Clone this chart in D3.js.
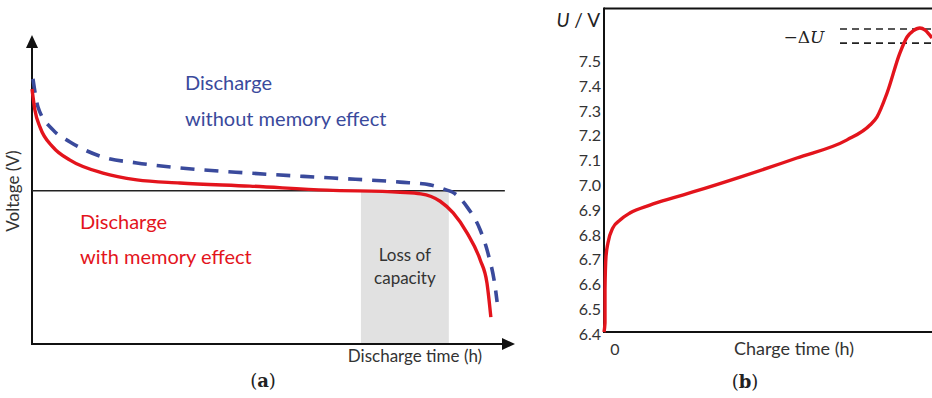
<!DOCTYPE html>
<html><head><meta charset="utf-8">
<script src="https://cdn.jsdelivr.net/npm/d3@7"></script>
<style>body{margin:0;background:#fff}svg{display:block}</style>
</head><body>
<script>
// Panel (a): discharge curves (arbitrary units: time 0-100, voltage 0-10)
const withMemT = [0, 0.6, 1.66, 4.35, 7.87, 14.7, 21.7, 30.6, 45.1, 61.1, 76.2, 80.5, 84.5, 87.2, 90.1, 92.8, 94.2, 95.0];
const withMemV = [8.25, 7.57, 7.02, 6.37, 5.95, 5.53, 5.31, 5.21, 5.11, 4.98, 4.91, 4.86, 4.62, 4.24, 3.59, 2.72, 1.97, 0.87];
const withoutMemT = [0.2, 1.24, 4.35, 7.87, 14.7, 21.7, 30.6, 45.1, 62.3, 76.2, 82.4, 85.9, 87.0, 90.1, 92.8, 94.4, 95.9, 96.3];
const withoutMemV = [8.58, 7.67, 6.93, 6.54, 6.05, 5.86, 5.70, 5.53, 5.37, 5.24, 5.15, 4.98, 4.92, 4.43, 3.69, 2.94, 1.84, 1.36];
const cutoffV = 4.96;
const lossRange = [68.1, 86.3];
const refLineEnd = 97.9;

// Panel (b): charge curve
const chargeT = [0, 0.3, 0.3, 0.6, 1.2, 2.7, 4.9, 7.9, 14.0, 21.0, 27.1, 41.5, 58.8, 74.1, 81.1, 83.2, 86.3, 90.2, 92.4, 94.2, 96.3, 97.9, 100];
const chargeU = [6.415, 6.452, 6.585, 6.718, 6.774, 6.835, 6.867, 6.895, 6.927, 6.956, 6.980, 7.040, 7.117, 7.190, 7.250, 7.282, 7.379, 7.540, 7.605, 7.629, 7.641, 7.633, 7.601];
const uTicks = [6.4, 6.5, 6.6, 6.7, 6.8, 6.9, 7.0, 7.1, 7.2, 7.3, 7.4, 7.5];
const uFloor = 6.415, uTop = 7.72;
const deltaULines = [7.637, 7.580];

const W = 932, H = 398;
const svg = d3.select("body").append("svg").attr("width", W).attr("height", H);
const sans = "Lato, 'Open Sans', sans-serif";
const RED = "#e3141c", BLUE = "#3a4a9c";

// ---------- Panel (a) ----------
const xa = d3.scaleLinear().domain([0, 100]).range([32, 515]);
const ya = d3.scaleLinear().domain([0, 10]).range([344, 35]);
const ga = svg.append("g");

ga.append("rect").attr("x", xa(lossRange[0])).attr("width", xa(lossRange[1]) - xa(lossRange[0]))
  .attr("y", ya(cutoffV)).attr("height", ya(0) - ya(cutoffV)).attr("fill", "#e1e1e1");

ga.append("line").attr("x1", xa(0)).attr("x2", xa(100) - 8).attr("y1", ya(0)).attr("y2", ya(0))
  .attr("stroke", "#111").attr("stroke-width", 2);
ga.append("line").attr("x1", xa(0)).attr("x2", xa(0)).attr("y1", ya(0) + 1).attr("y2", ya(10) + 8)
  .attr("stroke", "#111").attr("stroke-width", 2);
ga.append("path").attr("d", `M${xa(100)},${ya(0)} l-13,-6 l0,12 z`).attr("fill", "#111");
ga.append("path").attr("d", `M${xa(0)},${ya(10)} l-6,13 l12,0 z`).attr("fill", "#111");
ga.append("line").attr("x1", xa(0)).attr("x2", xa(refLineEnd)).attr("y1", ya(cutoffV)).attr("y2", ya(cutoffV))
  .attr("stroke", "#222").attr("stroke-width", 1.6);

const lineA = d3.line().x(d => xa(d[0])).y(d => ya(d[1])).curve(d3.curveMonotoneX);
ga.append("path").datum(withoutMemT.map((t, i) => [t, withoutMemV[i]])).attr("d", lineA)
  .attr("fill", "none").attr("stroke", BLUE).attr("stroke-width", 3.6).attr("stroke-dasharray", "14,10");
ga.append("path").datum(withMemT.map((t, i) => [t, withMemV[i]])).attr("d", lineA)
  .attr("fill", "none").attr("stroke", RED).attr("stroke-width", 3.4);

const txt = (g, x, y, s, opts = {}) => g.append("text").attr("x", x).attr("y", y).text(s)
  .attr("font-family", opts.font || sans).attr("font-size", opts.size || 18)
  .attr("fill", opts.fill || "#333").attr("text-anchor", opts.anchor || "start")
  .attr("dominant-baseline", "middle").attr("font-style", opts.style || "normal")
  .attr("font-weight", opts.weight || "normal");

txt(ga, 185, 85, "Discharge", {fill: BLUE, size: 20});
txt(ga, 185, 121, "without memory effect", {fill: BLUE, size: 20});
txt(ga, 80, 224, "Discharge", {fill: RED, size: 20});
txt(ga, 80, 259, "with memory effect", {fill: RED, size: 20});
txt(ga, (xa(lossRange[0]) + xa(lossRange[1])) / 2, 257, "Loss of", {anchor: "middle", size: 17});
txt(ga, (xa(lossRange[0]) + xa(lossRange[1])) / 2, 280, "capacity", {anchor: "middle", size: 17});
txt(ga, 415, 358, "Discharge time (h)", {anchor: "middle", size: 17});
ga.append("text").attr("transform", "translate(15,191) rotate(-90)").attr("text-anchor", "middle")
  .attr("dominant-baseline", "middle").attr("font-family", sans).attr("font-size", 17).attr("fill", "#333")
  .text("Voltage (V)");
const la = txt(ga, 263, 382, "", {anchor: "middle", size: 18, font: "'DejaVu Serif', serif", fill: "#222"});
la.append("tspan").text("(");
la.append("tspan").attr("font-weight", "bold").text("a");
la.append("tspan").text(")");

// ---------- Panel (b) ----------
const xb = d3.scaleLinear().domain([0, 100]).range([604, 932]);
const yb = d3.scaleLinear().domain([6.4, 7.5]).range([335.8, 63]);
const gb = svg.append("g");

gb.append("line").attr("x1", xb(0)).attr("x2", W).attr("y1", yb(uFloor)).attr("y2", yb(uFloor))
  .attr("stroke", "#111").attr("stroke-width", 2);
gb.append("line").attr("x1", xb(0)).attr("x2", W).attr("y1", yb(uTop)).attr("y2", yb(uTop))
  .attr("stroke", "#111").attr("stroke-width", 2);
gb.append("line").attr("x1", xb(0)).attr("x2", xb(0)).attr("y1", yb(uTop) - 1).attr("y2", yb(uFloor) + 1)
  .attr("stroke", "#111").attr("stroke-width", 2);

uTicks.forEach(v => txt(gb, 601, yb(v), v.toFixed(1), {anchor: "end", size: 16}));
txt(gb, xb(0) + 11, 351, "0", {anchor: "middle", size: 16});
txt(gb, 794, 350, "Charge time (h)", {anchor: "middle", size: 18});

deltaULines.forEach(v => gb.append("line").attr("x1", 840).attr("x2", W).attr("y1", yb(v)).attr("y2", yb(v))
  .attr("stroke", "#222").attr("stroke-width", 1.6).attr("stroke-dasharray", "7,5"));

const lineB = d3.line().x(d => xb(d[0])).y(d => yb(d[1])).curve(d3.curveMonotoneX);
gb.append("path").datum(chargeT.map((t, i) => [t, chargeU[i]])).attr("d", lineB)
  .attr("fill", "none").attr("stroke", RED).attr("stroke-width", 3.4);

const uv = txt(gb, 600, 22, "", {anchor: "end", size: 19, font: sans, fill: "#222"});
uv.append("tspan").attr("font-style", "italic").text("U");
uv.append("tspan").text(" / V");
const du = txt(gb, 804, 38, "", {anchor: "middle", size: 17, font: "'DejaVu Serif', serif", fill: "#222"});
du.append("tspan").text("−Δ");
du.append("tspan").attr("font-style", "italic").text("U");
const lb = txt(gb, 745, 383, "", {anchor: "middle", size: 18, font: "'DejaVu Serif', serif", fill: "#222"});
lb.append("tspan").text("(");
lb.append("tspan").attr("font-weight", "bold").text("b");
lb.append("tspan").text(")");
</script>
</body></html>
